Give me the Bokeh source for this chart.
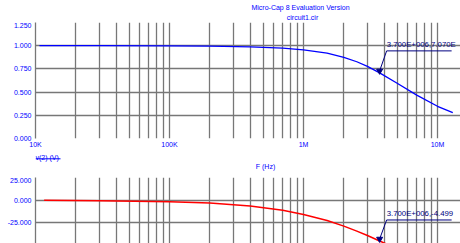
import numpy as np
from bokeh.plotting import figure
from bokeh.models import (Range1d, FixedTicker, PrintfTickFormatter, CustomJSTickFormatter)
from bokeh.core.properties import value
from bokeh.layouts import column
from bokeh.embed import file_html
from bokeh.resources import INLINE

# ---------------- data ----------------
freq_mag = [1.07e4, 3e4, 1e5, 2e5, 4e5, 7e5, 1e6, 1.5e6, 2e6, 2.5e6, 3e6, 3.7e6, 5e6, 7e6, 1e7, 1.3e7]
mag = [1.000, 1.000, 0.999, 0.995, 0.988, 0.974, 0.955, 0.920, 0.875, 0.827, 0.777, 0.707, 0.595, 0.467, 0.347, 0.278]
freq_phase = [1.16e4, 3e4, 1e5, 2e5, 4e5, 7e5, 1e6, 1.5e6, 2e6, 2.5e6, 3e6, 3.7e6, 5e6, 7e6, 1e7, 1.3e7]
phase = [-0.2, -0.5, -1.6, -3.2, -6.5, -11.2, -15.8, -22.5, -28.6, -34.1, -39.0, -45.0, -53.5, -62.1, -69.7, -74.1]
x_ticks = [1e4, 1e5, 1e6, 1e7]
x_tick_labels = ["10K", "100K", "1M", "10M"]
mag_ticks = [0.0, 0.25, 0.5, 0.75, 1.0, 1.25]
phase_ticks = [-50, -25, 0, 25]
marker_freq = 3.7e6
marker_mag = 0.707
marker_phase = -44.99
mag_label = "3.700E+006,7.070E"
phase_label = "3.700E+006,-4.499"
title_lines = ["Micro-Cap 8 Evaluation Version", "circuit1.cir"]
y_label_top = "v(2) (V)"
x_label = "F (Hz)"

# ---------------- layout ----------------
W = 460
LEFT = 35
HT = 22                      # title band height
FR1_H, B1 = 116, 13          # top plot frame height, bottom border (x axis)
HM = 177 - HT - FR1_H - B1   # middle band height
H2 = 243 - 177
DEC_PX = 134.0
X0 = 1e4
X1 = 10 ** (4 + (W - LEFT) / DEC_PX)
MAG_TOP = 1.25
PH_TOP = 25.0
PH_PX_PER_DEG = 0.907
PH_BOT = PH_TOP - H2 / PH_PX_PER_DEG

GRID = "#777777"
BLUE = "#0000ff"
NAVY = "#000080"
FONT = "Liberation Sans"

x_range = Range1d(X0, X1)
grid_ticks = [m * 10 ** e for e in range(4, 8) for m in range(1, 10)]

mag_px = FR1_H / MAG_TOP          # px per unit (top)


def fx(dpx, base=X0):
    """shift a frequency by dpx pixels on the log axis"""
    return base * 10 ** (dpx / DEC_PX)


def band(h):
    b = figure(width=W, height=h, x_axis_type="log", x_range=x_range, y_range=Range1d(h, 0),
               x_axis_location=None, y_axis_location=None, output_backend="svg",
               toolbar_location=None, min_border_left=LEFT, min_border_right=0,
               min_border_top=0, min_border_bottom=0)
    b.grid.visible = False
    b.outline_line_color = None
    b.background_fill_color = "white"
    b.border_fill_color = "white"
    return b


def style(p, yticks, fmt):
    p.outline_line_color = None
    p.background_fill_color = "white"
    p.border_fill_color = "white"
    p.xgrid.ticker = FixedTicker(ticks=grid_ticks)
    p.ygrid.ticker = FixedTicker(ticks=yticks)
    for g in (p.xgrid, p.ygrid):
        g.grid_line_color = GRID
        g.grid_line_width = 1.3
    ya = p.yaxis[0]
    ya.ticker = FixedTicker(ticks=yticks)
    ya.formatter = PrintfTickFormatter(format=fmt)
    ya.axis_line_color = GRID
    ya.axis_line_width = 1.3
    ya.major_tick_out = 0
    ya.major_tick_in = 0
    ya.minor_tick_out = 0
    ya.minor_tick_in = 0
    ya.major_label_standoff = 4
    ya.major_label_text_color = BLUE
    ya.major_label_text_font = FONT
    ya.major_label_text_font_size = "7px"


# ---------------- title band ----------------
pt = band(HT)
pt.text([fx(300 - LEFT), fx(302 - LEFT)], [7, 16.5], text=title_lines, text_color=BLUE,
        text_font=value(FONT), text_font_size="7px", text_align="center", text_baseline="middle")

# ---------------- top plot ----------------
p1 = figure(width=W, height=FR1_H + B1, x_axis_type="log", x_range=x_range,
            y_range=Range1d(0, MAG_TOP), output_backend="svg", toolbar_location=None,
            min_border_left=LEFT, min_border_right=0, min_border_top=0,
            min_border_bottom=B1)
style(p1, mag_ticks, "%.3f")
xa = p1.xaxis[0]
xa.ticker = FixedTicker(ticks=x_ticks)
xa.formatter = CustomJSTickFormatter(args=dict(vals=x_ticks, labs=x_tick_labels), code="""
for (let i = 0; i < vals.length; i++) {
  if (Math.abs(Math.log10(tick) - Math.log10(vals[i])) < 1e-6) return labs[i];
}
return "";
""")
xa.axis_line_color = None
xa.major_tick_out = 0
xa.major_tick_in = 0
xa.minor_tick_out = 0
xa.minor_tick_in = 0
xa.major_label_standoff = 2
xa.major_label_text_color = BLUE
xa.major_label_text_font = FONT
xa.major_label_text_font_size = "7px"

p1.line(freq_mag, mag, line_color=BLUE, line_width=1.3)

# marker annotation (top)
ex = fx(7, marker_freq)
ey = marker_mag + 22 / mag_px
ay = marker_mag + 2 / mag_px
p1.segment(x0=[marker_freq], y0=[ay], x1=[ex], y1=[ey], line_color=NAVY, line_width=1)
p1.segment(x0=[ex], y0=[ey], x1=[fx(65, ex)], y1=[ey], line_color=NAVY, line_width=1)
p1.scatter([marker_freq], [ay], marker="inverted_triangle", size=6, fill_color=NAVY, line_color=NAVY)
p1.text([ex], [ey + 2 / mag_px], text=[mag_label], text_color=NAVY, text_font=value(FONT),
        text_font_size="7.8px", text_align="left", text_baseline="bottom")

# ---------------- middle band (labels) ----------------
y0m = HT + FR1_H + B1          # canvas y of band top
pm = band(HM)
pm.text([X0], [156.6 - y0m], text=[y_label_top], text_color=BLUE, text_font=value(FONT),
        text_font_size="7px", text_align="left", text_baseline="alphabetic")
pm.segment(x0=[X0], y0=[158.3 - y0m], x1=[fx(25)], y1=[158.3 - y0m], line_color=BLUE, line_width=1)
pm.text([fx(265 - LEFT)], [166.3 - y0m], text=[x_label], text_color=BLUE, text_font=value(FONT),
        text_font_size="7px", text_align="center", text_baseline="middle")

# ---------------- bottom plot ----------------
p2 = figure(width=W, height=H2, x_axis_type="log", x_range=x_range, x_axis_location=None,
            y_range=Range1d(PH_BOT, PH_TOP), output_backend="svg", toolbar_location=None,
            min_border_left=LEFT, min_border_right=0, min_border_top=0, min_border_bottom=0)
style(p2, phase_ticks, "%.3f")

p2.line(freq_phase, phase, line_color="#ff0000", line_width=1.5)

ex2 = fx(7, marker_freq)
ey2 = marker_phase + 21 / PH_PX_PER_DEG
ay2 = marker_phase + 2 / PH_PX_PER_DEG
p2.segment(x0=[marker_freq], y0=[ay2], x1=[ex2], y1=[ey2], line_color=NAVY, line_width=1)
p2.segment(x0=[ex2], y0=[ey2], x1=[fx(65, ex2)], y1=[ey2], line_color=NAVY, line_width=1)
p2.scatter([marker_freq], [ay2], marker="inverted_triangle", size=6, fill_color=NAVY, line_color=NAVY)
p2.text([ex2], [ey2 + 2 / PH_PX_PER_DEG], text=[phase_label], text_color=NAVY, text_font=value(FONT),
        text_font_size="7.8px", text_align="left", text_baseline="bottom")

layout = column(pt, p1, pm, p2, spacing=0)
open("out.html", "w").write(file_html(layout, INLINE))
